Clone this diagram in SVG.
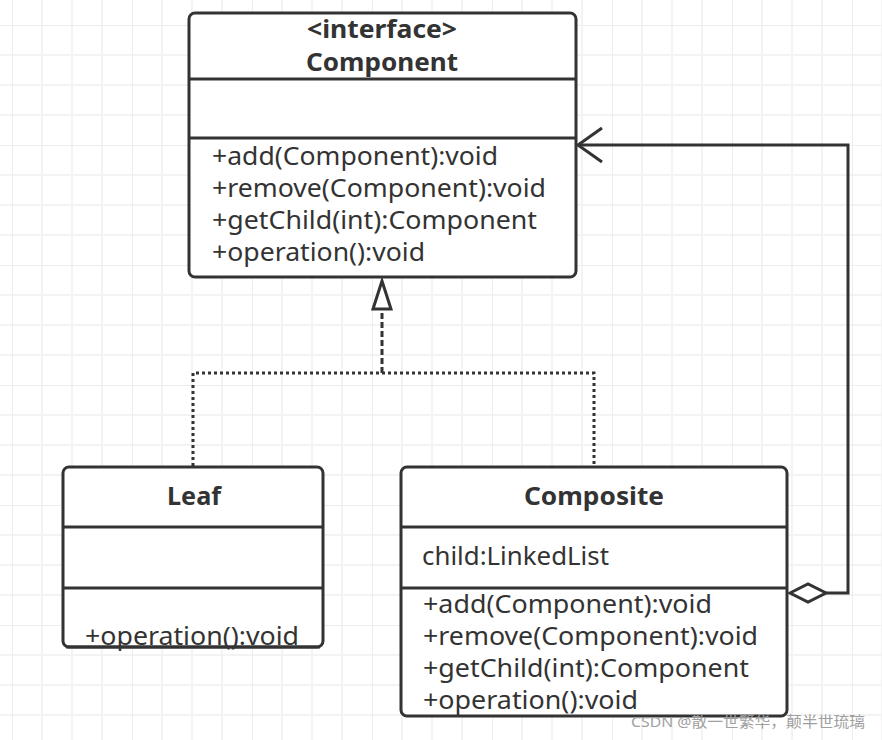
<svg xmlns="http://www.w3.org/2000/svg" width="882" height="740" viewBox="0 0 882 740">
<defs>
<pattern id="grid" x="12" y="25" width="120" height="120" patternUnits="userSpaceOnUse">
<path d="M0 30H120M0 60H120M0 90H120M30 0V120M60 0V120M90 0V120" stroke="#f3f3f3" stroke-width="2" fill="none"/>
<path d="M0 0H120M0 0V120" stroke="#ededed" stroke-width="2" fill="none"/>
</pattern>
<style>
.box{fill:#fff;stroke:#333;stroke-width:3}
.div{stroke:#333;stroke-width:3}
.t{font-family:"Noto Sans","Open Sans",sans-serif;fill:#333;font-size:25.5px}
.b{font-weight:bold;text-anchor:middle}
.con{fill:none;stroke:#333;stroke-width:3}
.dot{stroke-dasharray:3 3}
</style>
</defs>
<rect width="882" height="740" fill="#fff"/>
<rect width="882" height="740" fill="url(#grid)"/>

<g id="connectors">
<path class="con dot" d="M193 466V373H594V466"/>
<path class="con" d="M382 373V310" stroke-dasharray="6 3"/>
<polygon points="382,281 373,309 391,309" fill="#fff" stroke="#333" stroke-width="3" stroke-linejoin="miter"/>
<path class="con" d="M826 593H848V145H578"/>
<path class="con" d="M602 128L578 145L602 162"/>
<polygon points="790,593 808,584 826,593 808,602" fill="#fff" stroke="#333" stroke-width="3"/>
</g>

<g id="component">
<rect class="box" x="189" y="13" width="387" height="264" rx="6"/>
<line class="div" x1="189" y1="79" x2="576" y2="79"/>
<line class="div" x1="189" y1="138" x2="576" y2="138"/>
<text class="t b" x="382" y="38" textLength="150" lengthAdjust="spacingAndGlyphs">&lt;interface&gt;</text>
<text class="t b" x="382" y="71" textLength="152" lengthAdjust="spacingAndGlyphs">Component</text>
<text class="t" x="212" y="165" textLength="286" lengthAdjust="spacingAndGlyphs">+add(Component):void</text>
<text class="t" x="212" y="197" textLength="334" lengthAdjust="spacingAndGlyphs">+remove(Component):void</text>
<text class="t" x="212" y="229" textLength="325" lengthAdjust="spacingAndGlyphs">+getChild(int):Component</text>
<text class="t" x="212" y="261" textLength="213" lengthAdjust="spacingAndGlyphs">+operation():void</text>
</g>

<g id="leaf">
<rect class="box" x="63" y="467" width="260" height="180" rx="6"/>
<line class="div" x1="63" y1="527" x2="323" y2="527"/>
<line class="div" x1="63" y1="588" x2="323" y2="588"/>
<text class="t b" x="194" y="505" textLength="54" lengthAdjust="spacingAndGlyphs">Leaf</text>
<text class="t" x="85" y="645" textLength="214" lengthAdjust="spacingAndGlyphs">+operation():void</text>
<line class="div" x1="66" y1="647" x2="320" y2="647"/>
</g>

<g id="composite">
<rect class="box" x="401" y="467" width="386" height="249" rx="6"/>
<line class="div" x1="401" y1="527" x2="787" y2="527"/>
<line class="div" x1="401" y1="588" x2="787" y2="588"/>
<text class="t b" x="594" y="505" textLength="140" lengthAdjust="spacingAndGlyphs">Composite</text>
<text class="t" x="422" y="565" textLength="187" lengthAdjust="spacingAndGlyphs">child:LinkedList</text>
<text class="t" x="423" y="613" textLength="289" lengthAdjust="spacingAndGlyphs">+add(Component):void</text>
<text class="t" x="423" y="645" textLength="335" lengthAdjust="spacingAndGlyphs">+remove(Component):void</text>
<text class="t" x="423" y="677" textLength="326" lengthAdjust="spacingAndGlyphs">+getChild(int):Component</text>
<text class="t" x="423" y="709" textLength="215" lengthAdjust="spacingAndGlyphs">+operation():void</text>
</g>

<text x="631" y="727" font-family="'Noto Sans','Noto Sans CJK SC',sans-serif" font-size="15" fill="#a0a0a0" textLength="234" lengthAdjust="spacingAndGlyphs">CSDN @散一世繁华，颠半世琉璃</text>
</svg>
